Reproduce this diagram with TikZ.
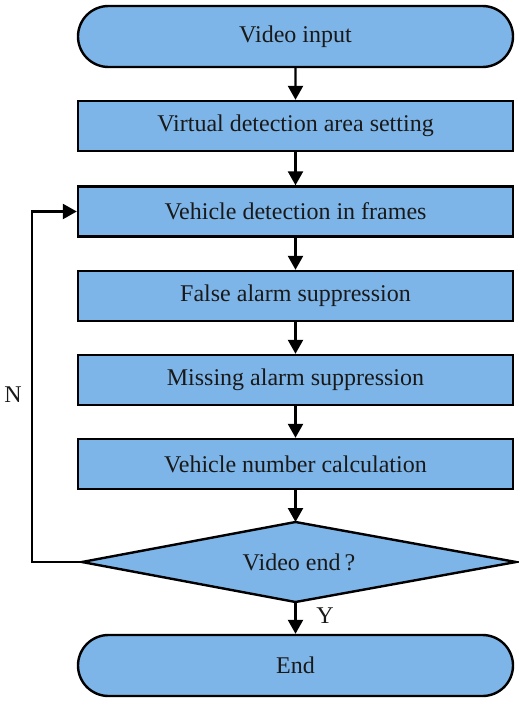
\documentclass[tikz,border=0pt]{standalone}
\usepackage{fontspec}
\setmainfont{Liberation Serif}
\usetikzlibrary{shapes.misc,arrows.meta}
\definecolor{boxblue}{RGB}{126,181,232}
\tikzset{
  base/.style={draw=black, line width=2.4pt, fill=boxblue, font=\fontsize{24}{28}\selectfont, inner sep=0pt, text=black!90},
  term/.style={base, rounded rectangle, minimum width=435pt, minimum height=61pt},
  stepbox/.style={base, rectangle, minimum width=435pt, minimum height=50pt},
  conn/.style={line width=2.4pt, -{Triangle[width=15pt,length=14pt]}},
  lbl/.style={font=\fontsize{24}{28}\selectfont, text=black!90}
}
\begin{document}
\begin{tikzpicture}[x=1pt,y=-1pt]
\useasboundingbox (0,0) rectangle (519,701);
\node[term] (start) at (295.5,36.5) {Video input};
\node[stepbox] (b1) at (295.5,126) {Virtual detection area setting};
\node[stepbox] (b2) at (295.5,211.5) {Vehicle detection in frames};
\node[stepbox] (b3) at (295.5,296) {False alarm suppression};
\node[stepbox] (b4) at (295.5,380) {Missing alarm suppression};
\node[stepbox] (b5) at (295.5,464) {Vehicle number calculation};
\coordinate (dt) at (295.5,522);
\coordinate (dl) at (82,562);
\coordinate (dr) at (516,562);
\coordinate (db) at (295.5,602);
\draw[line width=2.4pt, fill=boxblue, line join=miter] (dt) -- (dr) -- (db) -- (dl) -- cycle;
\node[font=\fontsize{24}{28}\selectfont, text=black!90] (dec) at (299,562) {Video end\,?};
\node[term] (end) at (295.5,665.5) {End};
\coordinate (lb) at (32,562);
\coordinate (lt) at (32,211.5);
\draw[conn] (start) -- (b1);
\draw[conn] (b1) -- (b2);
\draw[conn] (b2) -- (b3);
\draw[conn] (b3) -- (b4);
\draw[conn] (b4) -- (b5);
\draw[conn] (b5.south) -- (dt);
\draw[conn] (db) -- (end.north);
\draw[conn] (dl) -- (lb) -- (lt) -- (b2.west);
\node[lbl] (nlab) at (13,395) {N};
\node[lbl] (ylab) at (325,616) {Y};
\end{tikzpicture}
\end{document}
